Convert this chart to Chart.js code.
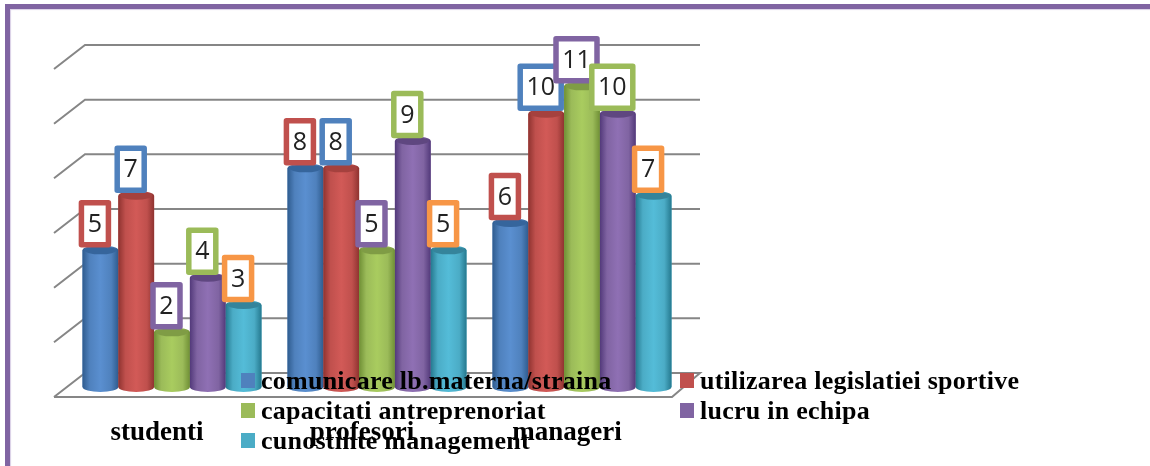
<!DOCTYPE html>
<html>
<head>
<meta charset="utf-8">
<title>Competente</title>
<script src="https://cdn.jsdelivr.net/npm/chart.js@4/dist/chart.umd.js"></script>
<style>
    html, body { margin: 0; padding: 0; background: #fff; overflow: hidden; }
    #canvas_grafico { position: absolute; left: 0; top: 0; filter: blur(0.5px); }
    #rama { position: absolute; left: 5px; top: 4px; right: -10px; height: 480px; box-sizing: border-box;
            border-top: 5px solid #8064a2; border-left: 5px solid #8064a2;
            box-shadow: inset 1px 1px 1px #d9cfe6; filter: blur(0.4px); }
</style>
</head>
<body>
<canvas id="canvas_grafico" width="1150" height="466"></canvas>
<div id="rama"></div>
<script>
const categorii = ['studenti', 'profesori', 'manageri'];

const comunicare = [5, 8, 6];
const legislatie = [7, 8, 10];
const antreprenoriat = [2, 5, 11];
const echipa = [4, 9, 10];
const management = [3, 5, 7];

const serii = ['comunicare lb.materna/straina', 'utilizarea legislatiei sportive',
    'capacitati antreprenoriat', 'lucru in echipa', 'cunostinte management'];
const valori = [comunicare, legislatie, antreprenoriat, echipa, management];

// culori: [margine inchisa, mijloc, deschis]
const culori = [
    ['#2f5c8f', '#4f81bd', '#5a8fd0'],
    ['#8f3330', '#c0504d', '#d25a57'],
    ['#6f8f35', '#9bbb59', '#a9cc5f'],
    ['#52397a', '#8064a2', '#8f70b4'],
    ['#25798f', '#4bacc6', '#54bcd8']
];
const culoriCapac = ['#36659c', '#a5413e', '#7f9c45', '#5f4780', '#35849b'];
const culoriEticheta = ['#c0504d', '#4f81bd', '#8064a2', '#9bbb59', '#f79646'];

const ctx = document.getElementById('canvas_grafico').getContext('2d');

function gradientCilindru(c, bar, i) {
    const g = c.createLinearGradient(bar.x - bar.width / 2, 0, bar.x + bar.width / 2, 0);
    g.addColorStop(0, culori[i][0]);
    g.addColorStop(0.2, culori[i][1]);
    g.addColorStop(0.5, culori[i][2]);
    g.addColorStop(0.8, culori[i][1]);
    g.addColorStop(1, culori[i][0]);
    return g;
}

// pereti si linii de grila in perspectiva
const perete = {
    id: 'perete',
    beforeDatasetsDraw(chart) {
        const c = chart.ctx;
        const y = chart.scales.y;
        const a = chart.chartArea;
        c.save();
        c.strokeStyle = '#868686';
        c.lineWidth = 2;
        y.ticks.forEach(t => {
            const py = y.getPixelForValue(t.value);
            c.beginPath();
            c.moveTo(a.left - 15.5, py + 10);
            c.lineTo(a.left + 15.5, py - 14);
            c.lineTo(a.right + 15.5, py - 14);
            if (t.value === 0) {
                c.lineTo(a.right - 12.5, py + 10);
                c.lineTo(a.left - 15.5, py + 10);
            }
            c.stroke();
        });
        c.restore();
    },
    afterDatasetsDraw(chart) {
        const c = chart.ctx;
        // corpul cilindrilor, peste barele plate
        chart.data.datasets.forEach((d, i) => {
            chart.getDatasetMeta(i).data.forEach(bar => {
                c.fillStyle = gradientCilindru(c, bar, i);
                c.beginPath();
                c.ellipse(bar.x, bar.base, bar.width / 2, 5, 0, 0, Math.PI);
                c.ellipse(bar.x, bar.y, bar.width / 2, 5, 0, Math.PI, 0);
                c.closePath();
                c.fill();
                c.fillStyle = culoriCapac[i];
                c.beginPath();
                c.ellipse(bar.x, bar.y, bar.width / 2 - 2, 4, 0, 0, Math.PI * 2);
                c.fill();
            });
        });

        // etichetele cu valori
        c.save();
        c.textAlign = 'center';
        c.textBaseline = 'middle';
        c.font = '25px "Open Sans"';
        chart.data.datasets.forEach((d, i) => {
            chart.getDatasetMeta(i).data.forEach((bar, j) => {
                const w = d.data[j] >= 10 ? 41 : 27;
                const h = 42;
                const cx = bar.x - 5.5;
                const top = bar.y - 3 - h - 2.5;
                c.fillStyle = '#fff';
                c.strokeStyle = culoriEticheta[i];
                c.lineWidth = 5.5;
                c.lineJoin = 'round';
                c.fillRect(cx - w / 2, top, w, h);
                c.strokeRect(cx - w / 2, top, w, h);
                c.fillStyle = '#222';
                c.fillText(String(d.data[j]), cx, top + h / 2 + 1);
            });
        });
        c.restore();
    },
    afterDraw(chart) {
        // legenda e peste grafic, in doua coloane
        const c = chart.ctx;
        const randuri = [[241, 388], [680, 388], [241, 418], [680, 418], [241, 448]];
        c.save();
        c.textAlign = 'left';
        c.textBaseline = 'alphabetic';
        c.font = 'bold 26px "Liberation Serif"';
        c.letterSpacing = '0.25px';
        chart.data.datasets.forEach((d, i) => {
            const x = randuri[i][0];
            const y = randuri[i][1];
            c.fillStyle = culori[i][1];
            c.fillRect(x, y - 15, 14, 15);
            c.fillStyle = '#000';
            c.fillText(d.label, x + 20, y + 1);
        });
        c.restore();
    }
};

new Chart(ctx, {
    type: 'bar',
    data: {
        labels: categorii,
        datasets: serii.map((nume, i) => ({
            label: nume,
            data: valori[i],
            backgroundColor: culori[i][1],
            borderWidth: 0,
            categoryPercentage: 0.873,
            barPercentage: 1
        }))
    },
    options: {
        responsive: false,
        animation: false,
        layout: { padding: { top: 59, left: 69.5, right: 465.5, bottom: 0 } },
        scales: {
            x: {
                grid: { display: false, drawTicks: false },
                border: { display: false },
                afterFit: s => { s.height = 79; },
                ticks: {
                    padding: 30,
                    labelOffset: -15,
                    maxRotation: 0,
                    color: '#000',
                    font: { family: '"Liberation Serif"', size: 27, weight: 'bold' }
                }
            },
            y: {
                display: false,
                min: 0,
                max: 12,
                ticks: { stepSize: 2 }
            }
        },
        plugins: {
            legend: { display: false },
            tooltip: { enabled: false }
        }
    },
    plugins: [perete]
});
</script>
</body>
</html>
